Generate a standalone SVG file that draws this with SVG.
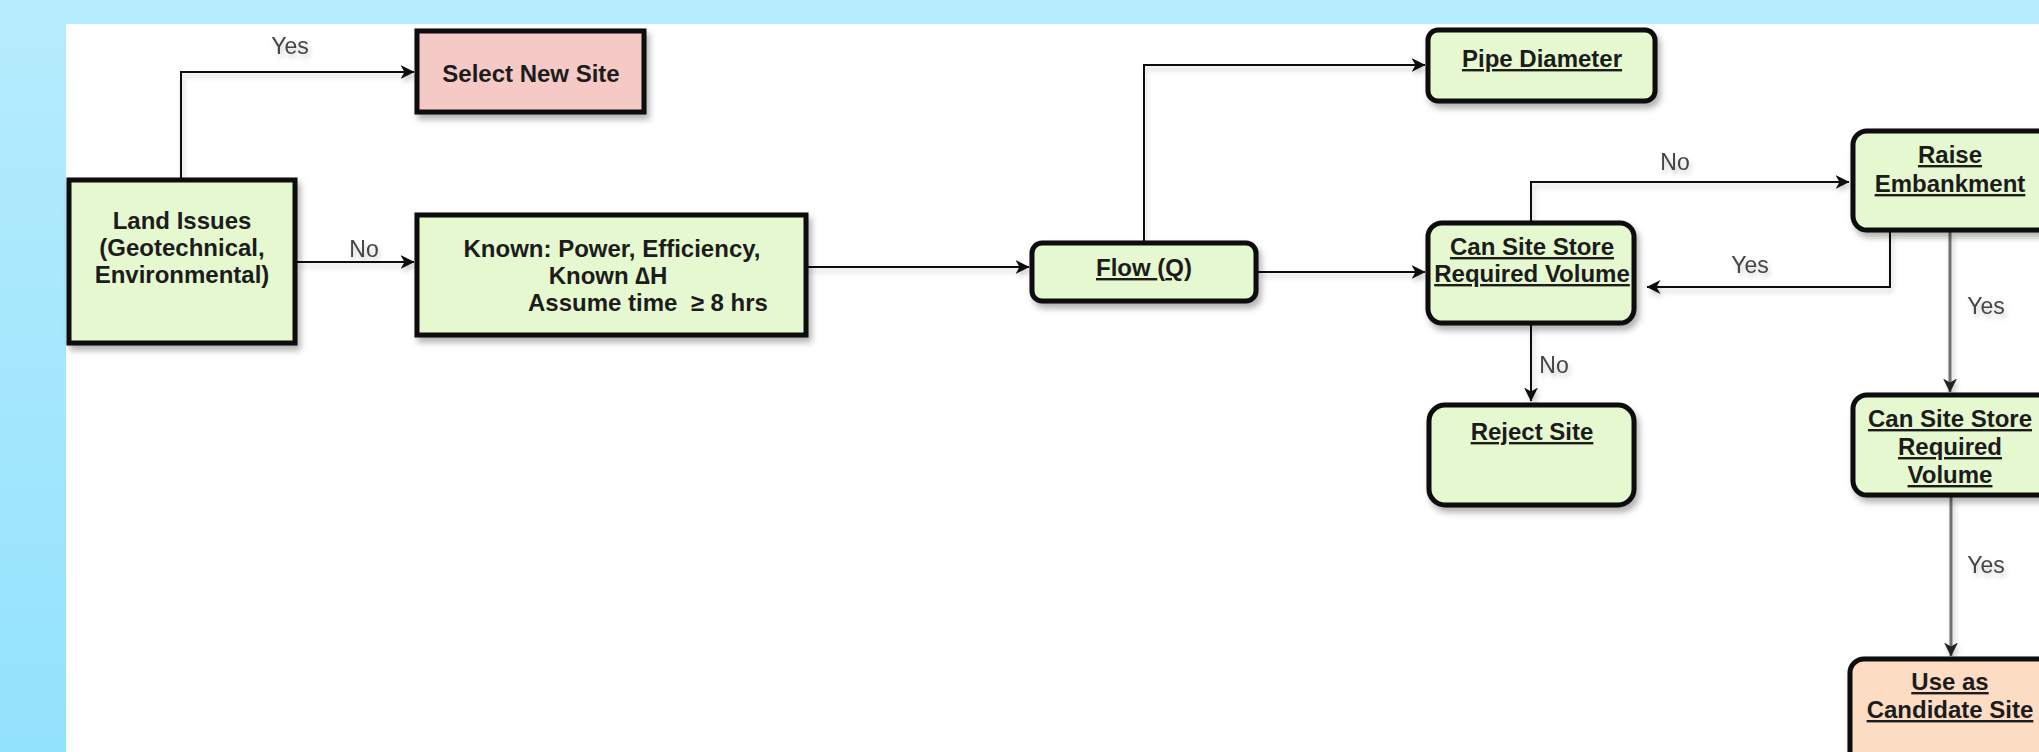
<svg xmlns="http://www.w3.org/2000/svg" width="2039" height="752" viewBox="0 0 2039 752">
<defs>
  <linearGradient id="bg" x1="0" y1="0" x2="0" y2="1">
    <stop offset="0" stop-color="#b6ecfd"/>
    <stop offset="1" stop-color="#93e2fd"/>
  </linearGradient>
  <filter id="shadow" x="-10%" y="-10%" width="130%" height="140%">
    <feDropShadow dx="3" dy="5" stdDeviation="3" flood-color="#000" flood-opacity="0.3"/>
  </filter>
  <filter id="lshadow" filterUnits="userSpaceOnUse" x="0" y="0" width="2039" height="752">
    <feDropShadow dx="2" dy="4" stdDeviation="2.5" flood-color="#000" flood-opacity="0.2"/>
  </filter>
  <marker id="arrow" viewBox="0 0 14 16" refX="13.5" refY="8" markerWidth="14" markerHeight="16" markerUnits="userSpaceOnUse" orient="auto">
    <path d="M0,1 L14,8 L0,15 L4,8 Z" fill="#111"/>
  </marker>
  <marker id="arrowg" viewBox="0 0 14 16" refX="13.5" refY="8" markerWidth="14" markerHeight="16" markerUnits="userSpaceOnUse" orient="auto">
    <path d="M0,1 L14,8 L0,15 L4,8 Z" fill="#222"/>
  </marker>
</defs>
<style>
  .box { stroke: #0d0d0d; stroke-width: 5; filter: url(#shadow); }
  .green { fill: #e6f8cf; }
  .pink { fill: #f5c9c5; }
  .peach { fill: #fddcc4; }
  .nt { font-family: "Liberation Sans", Arial, sans-serif; font-size: 24px; font-weight: bold; fill: #1c1c1c; text-anchor: middle; }
  .u { text-decoration: underline; }
  .edge { fill: none; stroke: #111; stroke-width: 2; marker-end: url(#arrow); filter: url(#lshadow); }
  .edgeg { fill: none; stroke: #707070; stroke-width: 3; marker-end: url(#arrowg); filter: url(#lshadow); }
  .lbl { font-family: "Liberation Sans", Arial, sans-serif; font-size: 23px; fill: #444; text-anchor: middle; filter: url(#lshadow); }
</style>

<rect x="0" y="0" width="2039" height="752" fill="url(#bg)"/>
<rect x="66" y="24" width="1973" height="728" fill="#ffffff"/>

<g id="connectors">
  <path class="edge" d="M181,178 V72 H414"/>
  <text class="lbl" x="290" y="54">Yes</text>
  <path class="edge" d="M297,262 H414"/>
  <text class="lbl" x="364" y="257">No</text>
  <path class="edge" d="M808,267 H1029"/>
  <path class="edge" d="M1144,241 V65 H1425"/>
  <path class="edge" d="M1258,272 H1425"/>
  <path class="edge" d="M1531,221 V182 H1849"/>
  <text class="lbl" x="1675" y="170">No</text>
  <path class="edge" d="M1890,232 V287 H1647"/>
  <text class="lbl" x="1750" y="273">Yes</text>
  <path class="edge" d="M1531,325 V401"/>
  <text class="lbl" x="1554" y="373">No</text>
  <path class="edgeg" d="M1950,232 V392"/>
  <text class="lbl" x="1986" y="314">Yes</text>
  <path class="edgeg" d="M1951,497 V656"/>
  <text class="lbl" x="1986" y="573">Yes</text>
</g>

<g id="select-new-site">
  <rect class="box pink" x="417" y="31" width="227" height="81"/>
  <text class="nt" x="531" y="82">Select New Site</text>
</g>

<g id="land-issues">
  <rect class="box green" x="69" y="180" width="226" height="163"/>
  <text class="nt" x="182" y="229">Land Issues</text>
  <text class="nt" x="182" y="256">(Geotechnical,</text>
  <text class="nt" x="182" y="283">Environmental)</text>
</g>

<g id="known">
  <rect class="box green" x="417" y="215" width="389" height="120"/>
  <text class="nt" x="612" y="257">Known: Power, Efficiency,</text>
  <text class="nt" x="608" y="284">Known ∆H</text>
  <text class="nt" x="528" y="311" style="text-anchor:start" xml:space="preserve">Assume time  ≥ 8 hrs</text>
</g>

<g id="flow">
  <rect class="box green" x="1032" y="243" width="224" height="58" rx="10"/>
  <text class="nt" x="1144" y="276"><tspan class="u">Flow </tspan>(<tspan class="u">Q</tspan>)</text>
</g>

<g id="pipe-diameter">
  <rect class="box green" x="1428" y="30" width="227" height="71" rx="10"/>
  <text class="nt u" x="1542" y="67">Pipe Diameter</text>
</g>

<g id="can-site-store-1">
  <rect class="box green" x="1428" y="223" width="206" height="100" rx="14"/>
  <text class="nt u" x="1532" y="255">Can Site Store</text>
  <text class="nt u" x="1532" y="282">Required Volume</text>
</g>

<g id="raise-embankment">
  <rect class="box green" x="1853" y="131" width="200" height="99" rx="14"/>
  <text class="nt u" x="1950" y="163">Raise</text>
  <text class="nt u" x="1950" y="192">Embankment</text>
</g>

<g id="reject-site">
  <rect class="box green" x="1429" y="405" width="205" height="100" rx="16"/>
  <text class="nt u" x="1532" y="440">Reject Site</text>
</g>

<g id="can-site-store-2">
  <rect class="box green" x="1853" y="395" width="200" height="100" rx="14"/>
  <text class="nt u" x="1950" y="427">Can Site Store</text>
  <text class="nt u" x="1950" y="455">Required</text>
  <text class="nt u" x="1950" y="483">Volume</text>
</g>

<g id="use-as-candidate-site">
  <rect class="box peach" x="1850" y="659" width="203" height="110" rx="14"/>
  <text class="nt u" x="1950" y="690">Use as</text>
  <text class="nt u" x="1950" y="718">Candidate Site</text>
</g>
</svg>
